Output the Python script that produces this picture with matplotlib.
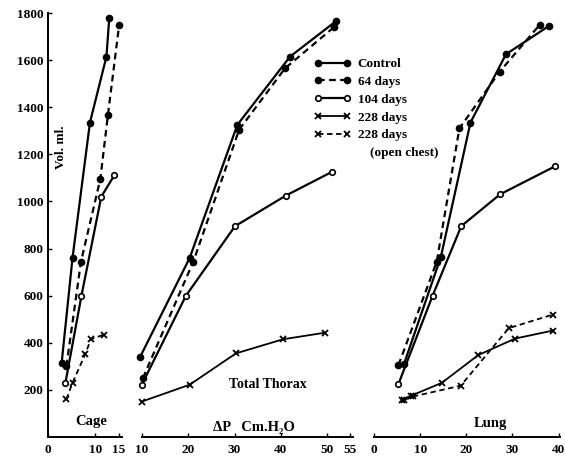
import matplotlib
matplotlib.use("Agg")
import matplotlib.pyplot as plt

plt.rcParams['font.family'] = ['Liberation Serif', 'DejaVu Serif']
plt.rcParams['font.weight'] = 'bold'

# ---------------- data ----------------
# Cage
cage_ctrl_x = [2.9, 5.2, 8.9, 12.4, 13.0]
cage_ctrl_y = [315, 760, 1335, 1615, 1780]
cage_64_x = [3.9, 7.0, 11.1, 12.7, 15.1]
cage_64_y = [300, 745, 1095, 1365, 1750]
cage_104_x = [3.7, 7.1, 11.3, 14.1]
cage_104_y = [230, 600, 1020, 1112]
cage_228_x = [3.9, 5.2, 7.9, 9.1, 11.9]
cage_228_y = [160, 230, 352, 415, 435]

# Total thorax
thor_ctrl_x = [9.6, 20.3, 30.6, 42.0, 51.9]
thor_ctrl_y = [340, 760, 1325, 1615, 1765]
thor_64_x = [10.2, 21.1, 31.0, 40.9, 51.5]
thor_64_y = [250, 745, 1305, 1565, 1740]
thor_104_x = [9.9, 19.5, 30.1, 41.1, 51.0]
thor_104_y = [220, 600, 895, 1025, 1125]
thor_228_x = [9.9, 20.3, 30.3, 40.5, 49.6]
thor_228_y = [150, 222, 355, 415, 443]

# Lung
lung_ctrl_x = [6.5, 14.5, 20.9, 28.6, 37.9]
lung_ctrl_y = [310, 765, 1335, 1625, 1745]
lung_64_x = [5.3, 13.6, 18.5, 27.2, 35.9]
lung_64_y = [305, 745, 1310, 1550, 1750]
lung_104_x = [5.3, 12.7, 18.9, 27.3, 39.3]
lung_104_y = [225, 600, 895, 1030, 1150]
lung_228_x = [6.0, 8.0, 14.7, 22.6, 30.6, 38.8]
lung_228_y = [158, 175, 230, 348, 418, 452]
lung_open_x = [6.6, 8.5, 18.8, 29.2, 38.8]
lung_open_y = [158, 172, 218, 462, 520]

labels = ['Control', '64 days', '104 days', '228 days', '228 days']

# ----------------------------------------------------------
W, H = 565, 459
fig = plt.figure(figsize=(W / 100, H / 100), dpi=100)

def px_axes(x0, x1, y0=437, y1=13):
    return fig.add_axes([x0 / W, 1 - y0 / H, (x1 - x0) / W, (y0 - y1) / H])

dash = (0, (3, 2))
st_ctrl = dict(color='black', lw=1.6, marker='o', ms=4.5, ls='-', clip_on=False)
st_64 = dict(color='black', lw=1.6, marker='o', ms=4.5, ls=dash, clip_on=False)
st_104 = dict(color='black', lw=1.6, marker='o', ms=4, mfc='white', mew=1.2, ls='-', clip_on=False)
st_228 = dict(color='black', lw=1.3, marker='x', ms=4, mew=1.3, ls='-', clip_on=False)
st_open = dict(color='black', lw=1.3, marker='x', ms=4, mew=1.3, ls=dash, clip_on=False)

ax1 = px_axes(48, 122)
ax2 = px_axes(142, 353)
ax3 = px_axes(374, 560)

ax1.plot(cage_ctrl_x, cage_ctrl_y, **st_ctrl)
ax1.plot(cage_64_x, cage_64_y, **st_64)
ax1.plot(cage_104_x, cage_104_y, **st_104)
ax1.plot(cage_228_x, cage_228_y, **st_open)

h1, = ax2.plot(thor_ctrl_x, thor_ctrl_y, **st_ctrl)
h2, = ax2.plot(thor_64_x, thor_64_y, **st_64)
h3, = ax2.plot(thor_104_x, thor_104_y, **st_104)
h4, = ax2.plot(thor_228_x, thor_228_y, **st_228)

ax3.plot(lung_ctrl_x, lung_ctrl_y, **st_ctrl)
ax3.plot(lung_64_x, lung_64_y, **st_64)
ax3.plot(lung_104_x, lung_104_y, **st_104)
ax3.plot(lung_228_x, lung_228_y, **st_228)
h5, = ax3.plot(lung_open_x, lung_open_y, **st_open)

ax1.set_xlim(0, 15.7)
ax1.set_xticks([0, 10, 15])
ax2.set_xlim(10, 55.6)
ax2.set_xticks([10, 20, 30, 40, 50, 55])
ax3.set_xlim(0, 40.3)
ax3.set_xticks([0, 10, 20, 30, 40])

for ax in (ax1, ax2, ax3):
    ax.set_ylim(0, 1800)
    ax.patch.set_alpha(0)
    for s in ('top', 'right'):
        ax.spines[s].set_visible(False)
    ax.spines['bottom'].set_linewidth(1.4)
    ax.tick_params(axis='x', direction='in', length=3, width=1, labelsize=9.5, pad=5)
    ax.tick_params(axis='y', direction='in', length=3, width=1, labelsize=9.5, pad=3)

ax1.spines['left'].set_linewidth(1.4)
ax1.set_yticks(range(200, 1801, 200))
for ax in (ax2, ax3):
    ax.spines['left'].set_visible(False)
    ax.set_yticks([])

# texts
fig.text(61 / W, 1 - 147 / H, 'Vol. ml.', rotation=90, ha='center', va='center', fontsize=9.5)
fig.text(91 / W, 1 - 422 / H, 'Cage', ha='center', va='center', fontsize=10.5)
fig.text(268 / W, 1 - 385 / H, 'Total Thorax', ha='center', va='center', fontsize=10)
fig.text(254 / W, 1 - 427 / H, 'ΔP   Cm.H₂O', ha='center', va='center', fontsize=10.5)
fig.text(490 / W, 1 - 423 / H, 'Lung', ha='center', va='center', fontsize=10.5)

leg = fig.legend([h1, h2, h3, h4, h5], labels, loc='upper left',
                 bbox_to_anchor=(314 / W, 1 - 58 / H), frameon=False,
                 fontsize=9.5, numpoints=2, handlelength=2.8, handletextpad=0.5,
                 labelspacing=0.42, borderpad=0, borderaxespad=0)
fig.text(370 / W, 1 - 153 / H, '(open chest)', ha='left', va='center', fontsize=9.5)

fig.savefig('out.png', dpi=100)
